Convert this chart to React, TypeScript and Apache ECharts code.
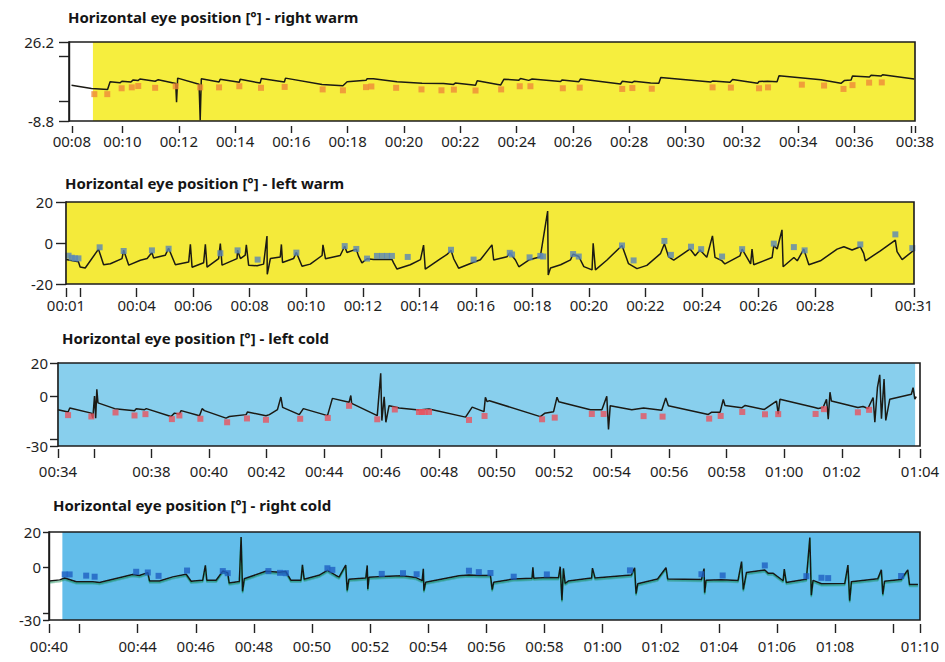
import React, { useEffect, useRef } from "react";
import * as echarts from "echarts";

// ---------- titles ----------
const panelTitles = [
  "Horizontal eye position [°] - right warm",
  "Horizontal eye position [°] - left warm",
  "Horizontal eye position [°] - left cold",
  "Horizontal eye position [°] - right cold",
];

// ---------- panel 1: right warm (time s, position °) ----------
const rightWarmTrace: [number, number][] = [
  [8.19, 7.0], [8.9, 5.6], [9.47, 5.2], [9.56, 8.6], [9.91, 8.1], [9.98, 8.8], [10.3, 8.5], [10.38, 9.4],
  [10.55, 9.1], [10.62, 9.8], [11.16, 8.8], [11.27, 9.5], [11.89, 7.8], [11.92, -0.5], [11.96, 10.2],
  [12.72, 7.5], [12.76, -8.5], [12.8, 9.9], [13.43, 8.5], [13.47, 9.7], [14.15, 8.4], [14.18, 9.7],
  [14.89, 8.0], [14.93, 10.0], [15.75, 8.5], [15.79, 10.2], [17.09, 7.4], [17.83, 6.8], [17.98, 8.6],
  [18.65, 9.2], [18.69, 9.9], [18.91, 9.9], [19.75, 8.6], [20.64, 7.9], [21.4, 7.8], [21.76, 7.4],
  [21.82, 8.0], [22.54, 7.0], [22.6, 9.0], [23.43, 7.1], [23.55, 9.7], [24.08, 9.3], [24.14, 10.0],
  [24.43, 9.2], [24.55, 9.8], [25.56, 8.7], [25.62, 9.4], [26.21, 8.6], [26.27, 9.8], [27.69, 7.6],
  [27.75, 8.8], [28.11, 8.3], [28.17, 8.8], [28.76, 8.0], [29.05, 7.9], [29.12, 10.5], [30.9, 8.5],
  [30.96, 8.9], [31.58, 8.4], [31.67, 9.6], [32.56, 7.9], [32.61, 8.7], [32.91, 8.8], [33.25, 8.6],
  [33.32, 11.2], [34.81, 9.5], [35.52, 7.9], [35.64, 9.1], [35.88, 9.4], [35.93, 11.1], [36.53, 10.7],
  [36.59, 11.5], [36.94, 11.1], [37.0, 11.7], [38.12, 9.8],
];
const rightWarmMarkTime = [
  9.0, 9.46, 9.97, 10.33, 10.56, 11.16, 11.89, 12.76, 13.43, 14.15, 14.92, 15.76, 17.11, 17.83, 18.65,
  18.84, 19.72, 20.62, 21.33, 21.77, 22.54, 23.45, 24.11, 24.49, 25.64, 26.24, 27.75, 28.11, 28.8, 30.96,
  31.61, 32.61, 32.93, 34.13, 34.92, 35.61, 35.93, 36.52, 36.97,
];
const rightWarmMarkPos = [
  3.1, 3.1, 5.7, 6.1, 6.7, 5.9, 6.6, 6.1, 6.1, 6.6, 5.9, 6.3, 5.2, 4.8, 6.2, 6.5, 5.9, 5.2, 4.8, 5.1,
  4.7, 5.2, 6.6, 6.6, 5.7, 6.0, 5.4, 5.8, 5.5, 6.1, 6.0, 5.7, 6.1, 7.3, 6.9, 5.4, 7.1, 8.2, 8.3,
];

// ---------- panel 2: left warm ----------
const leftWarmTrace: [number, number][] = [
  [1.5, -8.0], [1.94, -9.2], [2.0, -11.7], [2.18, -12.2], [2.65, -3.0], [2.83, -10.6], [3.07, -10.1],
  [3.48, -7.6], [3.54, -3.5], [3.72, -10.8], [4.13, -8.4], [4.37, -7.6], [4.54, -4.6], [4.6, -7.3],
  [5.01, -6.0], [5.13, -2.6], [5.37, -10.6], [5.84, -9.3], [5.9, -0.6], [5.96, -11.8], [6.37, -9.6],
  [6.43, -0.6], [6.49, -11.8], [6.9, -7.6], [6.96, -0.3], [7.02, -10.8], [7.55, -7.6], [7.57, -3.5],
  [7.67, -7.6], [7.84, -5.9], [7.88, -0.9], [7.96, -10.8], [8.26, -11.1], [8.49, -10.3], [8.61, 3.4],
  [8.62, -15.3], [8.73, -7.6], [9.08, -6.8], [9.12, -0.7], [9.16, -9.5], [9.55, -7.6], [9.65, -4.6],
  [9.85, -11.3], [10.14, -10.3], [10.56, -6.1], [10.59, -0.9], [10.68, -7.7], [11.2, -6.1], [11.36, -1.6],
  [11.44, -4.6], [11.77, -3.0], [11.85, -6.4], [11.97, -9.7], [12.15, -7.7], [12.38, -8.0], [13.03, -8.0],
  [13.09, -9.7], [13.21, -12.7], [13.68, -10.6], [14.04, -8.1], [14.15, -1.0], [14.21, -12.8],
  [14.74, -7.8], [14.98, -5.6], [15.12, -3.5], [15.22, -7.8], [15.39, -12.3], [15.92, -9.4], [16.16, -8.2],
  [16.57, -0.9], [16.63, -8.3], [17.1, -6.7], [17.2, -4.8], [17.4, -8.3], [17.52, -11.6], [17.87, -8.3],
  [18.28, -6.7], [18.54, 15.6], [18.56, -15.6], [18.64, -12.2], [19.0, -10.6], [19.35, -8.2], [19.44, -5.4],
  [19.64, -6.6], [19.82, -11.5], [20.11, -13.1], [20.15, -0.1], [20.23, -13.1], [20.63, -8.4], [21.17, -1.2],
  [21.4, -10.1], [21.7, -12.5], [22.05, -10.9], [22.53, -5.2], [22.67, -0.4], [22.82, -6.8], [23.0, -8.4],
  [23.58, -2.9], [23.76, -6.2], [23.93, -3.4], [24.17, -7.0], [24.37, 3.5], [24.46, -7.0], [24.7, -8.6],
  [24.81, -10.2], [25.34, -6.3], [25.42, -3.0], [25.72, -10.2], [25.77, -3.0], [25.83, -10.6], [26.48, -7.1],
  [26.54, -1.2], [26.66, -2.9], [26.83, 6.4], [26.87, -11.6], [27.25, -7.1], [27.37, -8.7], [27.6, -3.0],
  [27.78, -10.6], [28.19, -8.7], [28.78, -3.0], [29.02, -1.8], [29.31, -3.4], [29.6, -1.8], [29.72, -5.1],
  [29.78, -8.7], [30.31, -3.8], [30.84, 1.4], [30.9, -4.2], [31.08, -8.1], [31.49, -3.6],
];
const leftWarmMarkTime = [
  1.59, 1.71, 1.82, 1.94, 2.69, 3.54, 4.54, 5.13, 6.96, 7.57, 8.28, 9.65, 11.36, 11.77, 12.15, 12.5, 12.68,
  12.86, 13.03, 13.59, 15.12, 15.92, 17.2, 17.28, 17.9, 18.28, 18.38, 19.44, 19.64, 21.17, 21.58, 22.67,
  22.9, 23.61, 23.97, 24.71, 25.42, 26.54, 27.25, 27.63, 29.6, 30.84, 31.44,
];
const leftWarmMarkPos = [
  -6.2, -7.2, -7.5, -7.5, -2.1, -3.9, -3.6, -2.8, -5.0, -3.6, -8.1, -4.7, -1.5, -2.9, -7.6, -6.3, -6.3,
  -6.3, -6.3, -6.8, -3.3, -8.1, -4.8, -5.6, -7.0, -6.3, -6.6, -5.4, -6.6, -1.2, -8.5, 1.0, -5.8, -1.8,
  -3.0, -6.6, -3.0, -0.3, -2.0, -3.6, -0.7, 4.2, -2.5,
];

// ---------- panel 3: left cold ----------
const leftColdTrace: [number, number][] = [
  [34.75, -8.1], [35.1, -9.5], [35.16, -7.1], [35.91, -10.2], [35.96, -13.2], [36.02, 0.1], [36.06, -13.2],
  [36.1, 4.2], [36.14, -4.0], [36.72, -7.5], [37.41, -8.7], [37.47, -7.5], [37.76, -8.1], [37.82, -7.5],
  [38.68, -12.2], [38.8, -10.2], [38.97, -10.8], [39.03, -8.7], [39.67, -11.8], [39.76, -7.5], [39.84, -8.7],
  [40.59, -13.2], [40.71, -12.2], [41.29, -11.1], [41.34, -9.5], [41.98, -11.8], [42.1, -11.1], [42.38, -8.1],
  [42.5, -0.5], [42.56, -6.7], [43.14, -11.1], [43.28, -7.5], [44.12, -11.7], [44.29, -1.3], [44.87, -3.7],
  [44.93, 0.4], [44.96, -4.3], [45.85, -11.7], [45.97, 13.8], [46.01, -14.7], [46.09, -0.3], [46.15, -15.7],
  [46.26, -5.7], [46.43, -6.3], [46.61, -7.1], [47.3, -8.3], [47.65, -7.7], [48.92, -12.6], [49.15, -6.6],
  [49.56, -9.3], [49.61, -0.7], [49.67, -3.3], [49.75, -2.7], [51.52, -12.3], [51.67, -10.3], [51.98, -9.3],
  [52.1, -0.6], [52.16, -3.3], [53.26, -8.2], [53.66, -8.2], [53.83, -0.1], [53.89, -20.0], [53.95, -5.7],
  [54.7, -8.2], [55.11, -7.1], [55.74, -8.5], [55.88, -1.1], [55.97, -5.7], [57.36, -11.0], [57.48, -9.6],
  [57.77, -9.6], [57.88, -2.0], [57.94, -5.6], [58.52, -7.0], [58.64, -5.6], [59.31, -8.0], [59.73, -2.9],
  [59.79, -10.8], [59.85, -1.9], [61.06, -6.8], [61.18, -7.4], [61.35, -6.8], [61.47, -1.9], [61.53, -13.8],
  [61.59, 2.4], [61.64, -2.9], [62.56, -6.8], [62.74, -6.2], [62.91, -7.4], [63.09, -0.8], [63.15, -15.6],
  [63.24, 5.1], [63.32, 12.9], [63.38, -13.6], [63.47, 10.4], [63.53, -14.6], [63.67, -1.8], [64.42, 1.2],
  [64.48, 5.1], [64.54, -1.8], [64.59, -0.2],
];
const leftColdMarkTime = [
  35.1, 35.91, 36.75, 37.41, 37.79, 38.71, 38.97, 39.7, 40.63, 41.32, 41.98, 43.17, 44.13, 44.87, 45.85,
  46.46, 47.3, 47.4, 47.5, 47.65, 49.04, 49.58, 51.58, 52.02, 53.31, 53.72, 55.11, 55.77, 57.39, 57.79,
  58.54, 59.33, 59.79, 61.09, 61.38, 62.56, 62.95,
];
const leftColdMarkPos = [
  -11.4, -12.2, -9.8, -11.6, -10.8, -13.8, -11.6, -13.6, -15.7, -13.4, -14.2, -13.6, -13.1, -5.8, -13.9,
  -8.0, -9.5, -9.5, -9.5, -9.5, -14.3, -11.9, -13.9, -12.9, -10.7, -10.7, -12.0, -12.3, -13.5, -11.9,
  -9.5, -10.9, -10.8, -10.7, -7.8, -9.7, -8.2,
];

// ---------- panel 4: right cold ----------
const rightColdTrace: [number, number][] = [
  [40.97, -7.8], [41.32, -7.2], [41.49, -6.1], [41.89, -8.3], [42.23, -8.3], [42.46, -8.3], [42.69, -8.7],
  [43.83, -4.1], [44.06, -4.7], [44.35, -3.1], [44.41, -7.8], [44.75, -7.8], [45.21, -5.5], [45.67, -4.0],
  [45.84, -8.0], [46.24, -7.4], [46.33, 1.1], [46.38, -7.4], [46.7, -7.4], [46.93, -2.2], [47.1, -3.2],
  [47.15, -9.0], [47.5, -8.1], [47.56, 17.2], [47.61, -13.7], [47.67, -6.6], [48.41, -2.3], [48.87, -2.9],
  [49.1, -2.5], [49.27, -7.4], [49.62, -7.4], [49.67, 1.3], [49.73, -6.8], [50.24, -4.6], [50.53, -1.8],
  [50.82, -4.7], [50.93, -5.6], [51.16, 1.2], [51.21, -13.2], [51.27, -6.9], [51.85, -6.2], [51.9, 1.0],
  [51.92, -12.4], [51.96, -5.7], [52.42, -5.3], [53.1, -4.8], [53.56, -5.8], [53.79, -7.6], [53.83, -0.9],
  [53.85, -13.3], [53.91, -8.6], [55.06, -4.9], [55.4, -4.4], [55.74, -4.7], [56.14, -4.7], [56.2, -12.7],
  [56.25, -8.6], [56.94, -6.7], [57.57, -6.3], [57.6, -0.1], [57.63, -6.3], [58.08, -5.8], [58.48, -6.0],
  [58.54, 0.3], [58.6, -18.7], [58.65, -0.7], [58.71, -9.2], [58.82, -7.9], [59.62, -6.2], [59.65, -0.5],
  [59.74, -6.2], [60.99, -4.4], [61.1, -0.3], [61.15, -15.0], [61.21, -9.4], [61.89, -6.7], [62.18, -0.3],
  [62.24, -6.7], [63.4, -7.0], [63.49, -0.8], [63.51, -14.5], [63.56, -7.4], [64.09, -7.1], [64.66, -7.5],
  [64.78, 3.2], [64.84, -12.7], [64.95, -3.0], [65.58, -1.6], [65.7, -3.5], [65.87, -3.5], [66.21, -7.7],
  [66.25, -1.1], [66.32, -8.7], [67.01, -6.9], [67.13, 16.8], [67.18, -15.9], [67.24, -7.5], [67.53, -9.4],
  [68.33, -9.3], [68.44, 1.2], [68.5, -19.0], [68.56, -8.2], [69.47, -6.5], [69.59, -1.5], [69.64, -15.4],
  [69.7, -8.0], [70.27, -7.0], [70.5, -1.5], [70.56, -9.9], [70.85, -9.8],
];
const rightColdMarkTime = [
  41.49, 41.66, 42.23, 42.52, 43.95, 44.35, 44.72, 45.7, 46.93, 47.1, 48.5, 48.9, 49.1, 50.53, 50.7, 52.4,
  53.13, 53.6, 55.4, 55.74, 56.14, 56.94, 58.08, 60.94, 63.4, 64.13, 65.58, 67.01, 67.53, 67.76, 70.27,
];
const rightColdMarkPos = [
  -4.1, -4.1, -4.8, -5.4, -2.6, -3.0, -4.9, -1.9, -2.2, -3.4, -2.2, -3.2, -3.4, -0.6, -1.5, -3.8, -3.4,
  -4.0, -2.0, -2.8, -3.3, -5.4, -4.1, -1.8, -4.0, -4.7, 1.0, -5.1, -6.0, -6.2, -5.0,
];

// ---------- axes: ranges, ticks and tick labels ----------
const xRanges: [number, number][] = [[8.1, 38.15], [1.5, 31.5], [34.75, 64.72], [40.95, 70.92]];
const xTickSeconds = [
  [8.2, 10, 12, 14, 16, 18, 20, 22, 24, 26, 28, 30, 32, 34, 36, 38, 38.15],
  [1.5, 2, 4, 6, 8, 10, 12, 14, 16, 18, 20, 22, 24, 26, 28, 30, 31.5],
  [34.75, 36, 38, 40, 42, 44, 46, 48, 50, 52, 54, 56, 58, 60, 62, 64, 64.72],
  [40.95, 42, 44, 46, 48, 50, 52, 54, 56, 58, 60, 62, 64, 66, 68, 70, 70.92],
];
const xLabelSeconds = [
  [8.2, 10, 12, 14, 16, 18, 20, 22, 24, 26, 28, 30, 32, 34, 36, 38.15],
  [1.5, 4, 6, 8, 10, 12, 14, 16, 18, 20, 22, 24, 26, 28, 31.5],
  [34.75, 38, 40, 42, 44, 46, 48, 50, 52, 54, 56, 58, 60, 62, 64.72],
  [40.95, 44, 46, 48, 50, 52, 54, 56, 58, 60, 62, 64, 66, 68, 70.92],
];
const xLabelTexts = [
  ["00:08", "00:10", "00:12", "00:14", "00:16", "00:18", "00:20", "00:22", "00:24", "00:26", "00:28", "00:30", "00:32", "00:34", "00:36", "00:38"],
  ["00:01", "00:04", "00:06", "00:08", "00:10", "00:12", "00:14", "00:16", "00:18", "00:20", "00:22", "00:24", "00:26", "00:28", "00:31"],
  ["00:34", "00:38", "00:40", "00:42", "00:44", "00:46", "00:48", "00:50", "00:52", "00:54", "00:56", "00:58", "01:00", "01:02", "01:04"],
  ["00:40", "00:44", "00:46", "00:48", "00:50", "00:52", "00:54", "00:56", "00:58", "01:00", "01:02", "01:04", "01:06", "01:08", "01:10"],
];
const yRanges: [number, number][] = [[-8.8, 26.2], [-20, 20], [-30, 20], [-30, 20]];
const yTickValues = [[-8.8, 0, 20, 26.2], [-20, 0, 20], [-30, -26, 0, 20], [-30, -26, 0, 20]];
const yLabelValues = [[-8.8, 26.2], [-20, 0, 20], [-30, 0, 20], [-30, 0, 20]];
const shadedFrom = [8.95, 1.5, 34.75, 41.41];
const shadedTo = [38.15, 31.5, 64.55, 70.92];

// ---------- layout / style ----------
const FONT = "'Noto Sans', 'Open Sans', 'DejaVu Sans', sans-serif";
const layout = [
  { left: 69, right: 30, top: 42, height: 79, titleX: 68, titleY: 9, xOff: 5, xTick: 7, xMargin: 7, yTick: 10, yMargin: 15 },
  { left: 66, right: 31, top: 202, height: 82, titleX: 65, titleY: 175, xOff: 4, xTick: 9, xMargin: 9, yTick: 10, yMargin: 13 },
  { left: 58, right: 25, top: 363, height: 83, titleX: 62, titleY: 330, xOff: 3, xTick: 9, xMargin: 14, yTick: 8, yMargin: 10 },
  { left: 49, right: 25, top: 532, height: 88, titleX: 53, titleY: 497, xOff: 4, xTick: 9, xMargin: 14, yTick: 6, yMargin: 8 },
];
const shadeColors = ["#f6ee3e", "#f4ea3a", "#88cfed", "#62bdea"];
const markerColors = ["#ef8a3a", "#5a86b8", "#e9525e", "#1f5fc2"];
const traces = [rightWarmTrace, leftWarmTrace, leftColdTrace, rightColdTrace];
const markTimes = [rightWarmMarkTime, leftWarmMarkTime, leftColdMarkTime, rightColdMarkTime];
const markPos = [rightWarmMarkPos, leftWarmMarkPos, leftColdMarkPos, rightColdMarkPos];

function buildOption() {
  const grid: any[] = [];
  const xAxis: any[] = [];
  const yAxis: any[] = [];
  const series: any[] = [];
  const title: any[] = [];
  for (let i = 0; i < 4; i++) {
    const L = layout[i];
    title.push({
      text: panelTitles[i],
      left: L.titleX,
      top: L.titleY,
      padding: 0,
      textStyle: { fontFamily: FONT, fontSize: 15, fontWeight: "bold", color: "#151515" },
    });
    grid.push({
      left: L.left, right: L.right, top: L.top, height: L.height,
      show: true, borderColor: "#1c1c1c", borderWidth: 1.6, backgroundColor: "transparent", z: 5,
    });
    const labSec = xLabelSeconds[i];
    const labTxt = xLabelTexts[i];
    xAxis.push({
      type: "value", gridIndex: i, min: xRanges[i][0], max: xRanges[i][1], offset: L.xOff,
      position: "bottom",
      axisLine: { show: true, onZero: false, lineStyle: { color: "#222", opacity: 0 } },
      axisTick: { show: true, length: L.xTick, customValues: xTickSeconds[i], lineStyle: { color: "#222", width: 1.4 } },
      axisLabel: {
        customValues: labSec,
        margin: L.xMargin,
        fontFamily: FONT, fontSize: 15, color: "#1e1e1e",
        formatter: (v: number) => {
          for (let k = 0; k < labSec.length; k++) if (Math.abs(labSec[k] - v) < 1e-3) return labTxt[k];
          return "";
        },
      },
      splitLine: { show: false },
    });
    yAxis.push({
      type: "value", gridIndex: i, min: yRanges[i][0], max: yRanges[i][1],
      position: "left",
      axisLine: { show: true, onZero: false, lineStyle: { color: "#1c1c1c", width: 1.4 } },
      axisTick: { show: true, length: L.yTick, customValues: yTickValues[i], lineStyle: { color: "#222", width: 1.4 } },
      axisLabel: { customValues: yLabelValues[i], margin: L.yMargin, fontFamily: FONT, fontSize: 15, color: "#1e1e1e" },
      splitLine: { show: false },
    });
    series.push({
      type: "line", xAxisIndex: i, yAxisIndex: i, data: traces[i], symbol: "none", showSymbol: false,
      lineStyle: i === 3
        ? { color: "#151515", width: 1.5, shadowColor: "rgba(20,140,90,0.75)", shadowOffsetY: 1.5, shadowBlur: 0 }
        : { color: "#1b1a14", width: 1.5 },
      z: 3,
      markArea: {
        silent: true,
        itemStyle: { color: shadeColors[i] },
        data: [[{ xAxis: shadedFrom[i] }, { xAxis: shadedTo[i] }]],
      },
    });
    series.push({
      type: "scatter", xAxisIndex: i, yAxisIndex: i, symbol: "rect", symbolSize: 6, z: 4,
      itemStyle: { color: markerColors[i] },
      data: markTimes[i].map((t, k) => [t, markPos[i][k]]),
    });
  }
  return { animation: false, backgroundColor: "#ffffff", title, grid, xAxis, yAxis, series };
}

export default function App() {
  const ref = useRef<HTMLDivElement>(null);
  useEffect(() => {
    if (!ref.current) return;
    const chart = echarts.init(ref.current, undefined, { renderer: "svg" });
    chart.setOption(buildOption() as any);
    return () => chart.dispose();
  }, []);
  return (
    <div
      ref={ref}
      style={{ position: "absolute", left: 0, top: 0, width: 945, height: 662, background: "#fff" }}
    />
  );
}
